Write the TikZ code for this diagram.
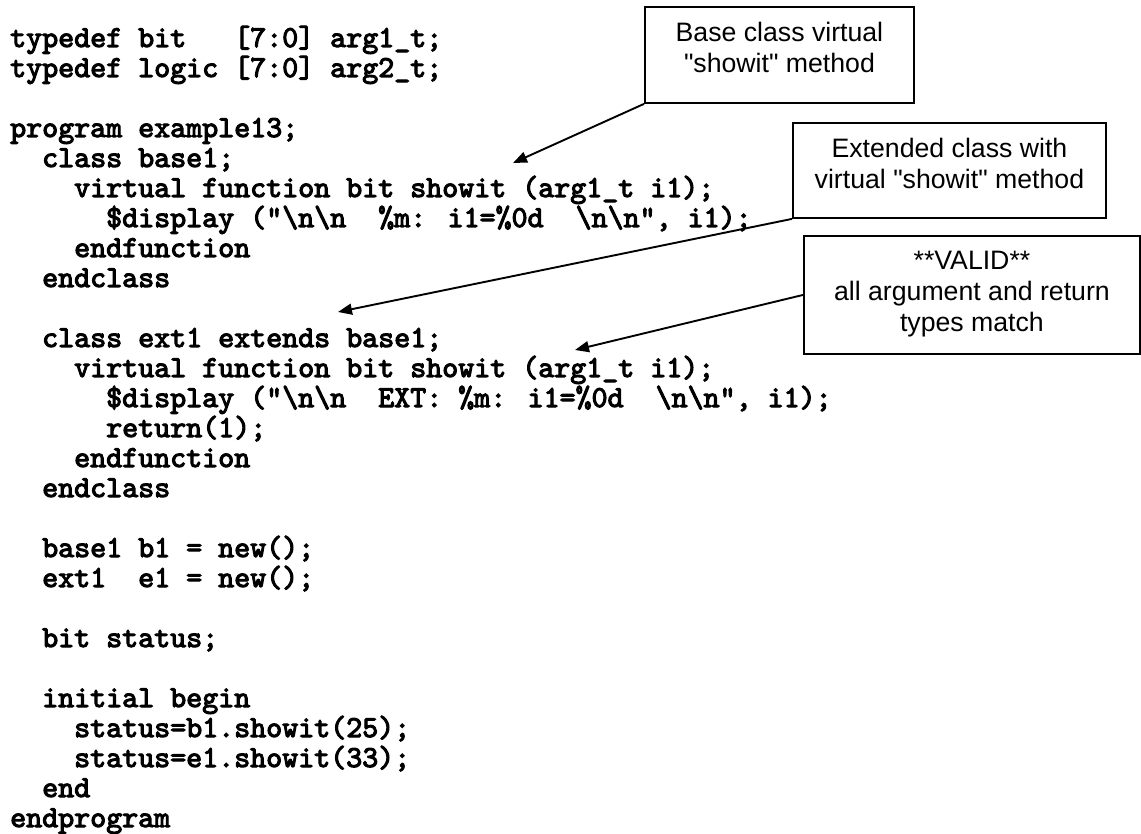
\documentclass[tikz,border=0pt]{standalone}
\usepackage{fontspec}
\setmainfont{Liberation Sans}[Ligatures=TeXOff]
\newfontfamily\codefamily{lmmono10-regular.otf}[Ligatures=TeXOff, FakeBold=3.5]
\newcommand{\codefont}{\codefamily\fontsize{30.48}{30}\selectfont}
\newcommand{\notefont}{\fontsize{26.67}{31}\selectfont}
\usetikzlibrary{arrows.meta, positioning}
\tikzset{
  codeline/.style={anchor=base west, inner sep=0pt, font=\codefont},
  notebox/.style={draw, line width=1.9pt, anchor=north west, inner sep=0pt},
  notetext/.style={inner sep=0pt, align=center, font=\notefont},
  pointer/.style={-{Triangle[length=14pt,width=11pt]}, line width=1.9pt}
}

\begin{document}
\begin{tikzpicture}[x=1pt, y=-1pt]
      \fill[white] (0,0) rectangle (1141,834);
      \useasboundingbox (0,0) rectangle (1141,834);

      % code listing
      \node[codeline] (l1) at (10,47) {typedef bit~~~[7:0] arg1\_t;};
      \node[codeline] (l2) at (10,77) {typedef logic [7:0] arg2\_t;};

      \node[codeline] (l4) at (10,137) {program example13;};
      \node[codeline] (l5) at (10,167) {~~class base1;};
      \node[codeline] (l6) at (10,197) {~~~~virtual function bit showit (arg1\_t i1);};
      \node[codeline] (l7) at (10,227) {~~~~~~\$display ("\textbackslash n\textbackslash n~~\%m: i1=\%0d~~\textbackslash n\textbackslash n", i1);};
      \node[codeline] (l8) at (10,257) {~~~~endfunction};
      \node[codeline] (l9) at (10,287) {~~endclass};

      \node[codeline] (l11) at (10,347) {~~class ext1 extends base1;};
      \node[codeline] (l12) at (10,377) {~~~~virtual function bit showit (arg1\_t i1);};
      \node[codeline] (l13) at (10,407) {~~~~~~\$display ("\textbackslash n\textbackslash n~~EXT: \%m: i1=\%0d~~\textbackslash n\textbackslash n", i1);};
      \node[codeline] (l14) at (10,437) {~~~~~~return(1);};
      \node[codeline] (l15) at (10,467) {~~~~endfunction};
      \node[codeline] (l16) at (10,497) {~~endclass};

      \node[codeline] (l18) at (10,557) {~~base1 b1 = new();};
      \node[codeline] (l19) at (10,587) {~~ext1~~e1 = new();};

      \node[codeline] (l21) at (10,647) {~~bit status;};

      \node[codeline] (l23) at (10,707) {~~initial begin};
      \node[codeline] (l24) at (10,737) {~~~~status=b1.showit(25);};
      \node[codeline] (l25) at (10,767) {~~~~status=e1.showit(33);};
      \node[codeline] (l26) at (10,797) {~~end};
      \node[codeline] (l27) at (10,827) {endprogram};

      % callouts
      \node[notebox, minimum width=269pt, minimum height=96pt] (baseBox) at (644,6) {};
      \node[notetext, below=16pt of baseBox.north] (baseText) {Base class virtual\\"showit" method};

      \node[notebox, minimum width=313pt, minimum height=95pt] (extBox) at (792,122) {};
      \node[notetext, below=16pt of extBox.north] (extText) {Extended class with\\virtual "showit" method};

      \node[notebox, minimum width=336pt, minimum height=118pt] (validBox) at (803,235) {};
      \node[notetext, below=16pt of validBox.north] (validText) {**VALID**\\all argument and return\\types match};

      \coordinate (baseTip) at (513,163);
      \coordinate (extTip) at (338,312);
      \coordinate (validTip) at (575,350);

      \draw[pointer] (baseBox.south west) -- (baseTip);
      \draw[pointer] (extBox.south west) -- (extTip);
      \draw[pointer] (validBox.west) -- (validTip);
    \end{tikzpicture}
\end{document}
